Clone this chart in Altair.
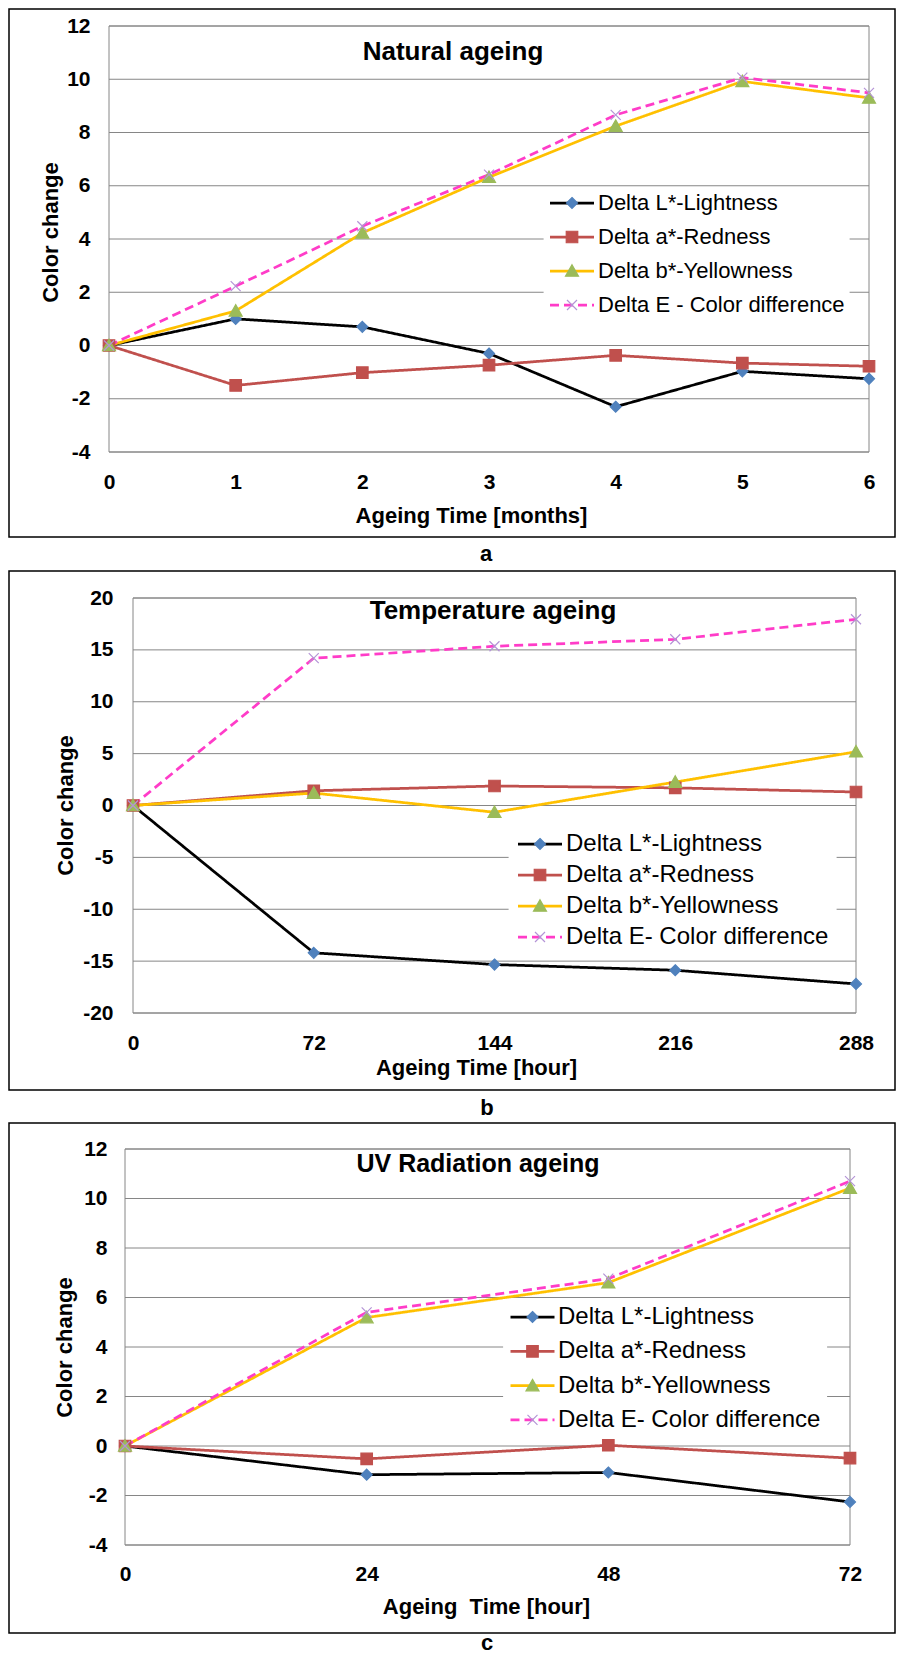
import altair as alt
import pandas as pd

# ---------------- data ----------------
names_a = ["Delta L*-Lightness", "Delta a*-Redness", "Delta b*-Yellowness", "Delta E - Color difference"]
names_bc = ["Delta L*-Lightness", "Delta a*-Redness", "Delta b*-Yellowness", "Delta E- Color difference"]
marker_keys = ["L", "a", "b", "E"]

months = [0, 1, 2, 3, 4, 5, 6]
nat_L = [0, 1.0, 0.7, -0.3, -2.3, -0.97, -1.25]
nat_a = [0, -1.5, -1.02, -0.74, -0.37, -0.66, -0.78]
nat_b = [0, 1.3, 4.23, 6.32, 8.24, 9.92, 9.3]
nat_E = [0, 2.23, 4.48, 6.42, 8.66, 10.06, 9.49]

temp_hours = [0, 72, 144, 216, 288]
temp_L = [0, -14.2, -15.33, -15.88, -17.2]
temp_a = [0, 1.42, 1.88, 1.7, 1.3]
temp_b = [0, 1.2, -0.65, 2.26, 5.18]
temp_E = [0, 14.2, 15.35, 16.02, 17.95]

uv_hours = [0, 24, 48, 72]
uv_L = [0, -1.16, -1.07, -2.26]
uv_a = [0, -0.52, 0.03, -0.49]
uv_b = [0, 5.19, 6.6, 10.42]
uv_E = [0, 5.4, 6.76, 10.7]

titles = ["Natural ageing", "Temperature ageing", "UV Radiation ageing"]
captions = ["a", "b", "c"]
x_titles = ["Ageing Time [months]", "Ageing Time [hour]", "Ageing\u00a0 Time [hour]"]
y_title = "Color change"
y_ticks_ac = [-4, -2, 0, 2, 4, 6, 8, 10, 12]
y_ticks_b = [-20, -15, -10, -5, 0, 5, 10, 15, 20]

# ---------------- styles ----------------
W, H = 888, 1648
line_colors = ["#000000", "#C0504D", "#FFC000", "#FF3CC8"]
marker_colors = ["#4F81BD", "#C0504D", "#9BBB59", "#B493D6"]
dash_styles = [[1, 0], [1, 0], [1, 0], [9, 5]]
marker_shapes = [
    "M-4.4,0M4.4,0M0,-1.1L1.1,0L0,1.1L-1.1,0Z",
    "M-4.4,0M4.4,0M-1.15,-1.15H1.15V1.15H-1.15Z",
    "M-4.4,0M4.4,0M0,-1.25L1.3,1.05H-1.3Z",
    "M-4.4,0M4.4,0M-1,-1L1,1M-1,1L1,-1",
]
line_symbol = "M-4.4,0H4.4"
FONT = "Liberation Sans"
GRID = "#868686"
HYPHEN_EXPR = "replace(datum.label, '\u2212', '-')"


def panel(xs, series, names, xdom, ydom, yticks, xtitle, g):
    rows = []
    for name, mk, vals in zip(names, marker_keys, series):
        for xv, yv in zip(xs, vals):
            rows.append({"t": xv, "v": yv, "series": name, "mk": mk})
    df = pd.DataFrame(rows)

    xenc = alt.X("t:Q", scale=alt.Scale(domain=xdom, range=[g["x0"], g["x1"]], nice=False, zero=False),
                 axis=alt.Axis(orient="bottom", offset=g["yb"] - H, values=xs, title=xtitle,
                               grid=False, labelPadding=g["xlp"], titleX=g["xtx"], titleY=g["xty"],
                               titleAlign="center", titleBaseline="middle", labelFlush=False))
    yenc = alt.Y("v:Q", scale=alt.Scale(domain=ydom, range=[g["yb"], g["yt"]], nice=False, zero=False),
                 axis=alt.Axis(orient="left", offset=-g["x0"], values=yticks, title=y_title,
                               grid=False, labelPadding=g["ylp"], titleX=g["ytx"], titleY=g["yty"],
                               titleAlign="center", titleBaseline="middle", labelExpr=HYPHEN_EXPR))

    common = dict(orient="none", legendX=g["lx"], legendY=g["ly"], title=None,
                  direction="vertical", padding=g["lp"], rowPadding=g["rp"],
                  labelFont=FONT, labelFontSize=g["lfs"], labelColor="black",
                  labelLimit=500, symbolOffset=g["so"], labelOffset=g["lo"],
                  symbolSize=100)
    legA = alt.Legend(symbolType=line_symbol, symbolStrokeWidth=2.75,
                      fillColor="white", **common)
    legB = alt.Legend(symbolStrokeWidth=1.2, labelExpr="' '", labelOpacity=0, **common)

    grid_df = pd.DataFrame({"v": yticks})
    grid = alt.Chart(grid_df).mark_rule(color=GRID, strokeWidth=1).encode(
        y=yenc, x=alt.value(g["x0"]), x2=alt.value(g["x1"]))
    border_df = pd.DataFrame({"t": [xdom[0]], "t2": [xdom[1]], "v": [ydom[0]], "v2": [ydom[1]]})
    border = alt.Chart(border_df).mark_rect(fill="transparent", stroke=GRID, strokeWidth=1).encode(
        x=xenc, x2=alt.X2("t2"), y=yenc, y2=alt.Y2("v2"))

    base = alt.Chart(df)
    lines = base.mark_line(strokeWidth=2.75).encode(
        x=xenc, y=yenc,
        color=alt.Color("series:N", scale=alt.Scale(domain=names, range=line_colors), legend=legA),
        strokeDash=alt.StrokeDash("series:N", scale=alt.Scale(domain=names, range=dash_styles), legend=legA),
    )
    pts = base.mark_point(filled=True, size=100, opacity=1, strokeWidth=1.2).encode(
        x=xenc, y=yenc,
        fill=alt.Fill("mk:N", scale=alt.Scale(domain=marker_keys, range=marker_colors), legend=legB),
        stroke=alt.Stroke("mk:N", scale=alt.Scale(domain=marker_keys, range=marker_colors), legend=legB),
        shape=alt.Shape("mk:N", scale=alt.Scale(domain=marker_keys, range=marker_shapes), legend=legB),
    )
    return alt.layer(grid, border, lines, pts)


def frame(y1, y2):
    return alt.Chart(pd.DataFrame({"k": [0]})).mark_rect(
        fill="transparent", stroke="black", strokeWidth=1.5).encode(
        x=alt.value(1), x2=alt.value(W - 1), y=alt.value(y1), y2=alt.value(y2))


def label(txt, x, y, size):
    return alt.Chart(pd.DataFrame({"k": [0]})).mark_text(
        text=txt, font=FONT, fontSize=size, fontWeight="bold", align="center",
        baseline="middle", color="black").encode(x=alt.value(x), y=alt.value(y))


geo_a = dict(x0=101, x1=861, yb=444, yt=18, xlp=19, xtx=463, xty=63, ylp=19, ytx=-59, yty=224,
             lx=535.6, ly=179, lp=5, rp=12, lfs=22, so=12.4, lo=15)
geo_b = dict(x0=125, x1=848, yb=1005, yt=590, xlp=19, xtx=468, xty=54, ylp=20, ytx=-68, yty=797,
             lx=500.6, ly=816, lp=8, rp=7, lfs=24, so=11.4, lo=14)
geo_c = dict(x0=117, x1=842, yb=1537, yt=1141, xlp=18, xtx=478, xty=61, ylp=18, ytx=-61, yty=1339,
             lx=495.1, ly=1291, lp=6, rp=10.3, lfs=24, so=11.4, lo=13.5)

pa = panel(months, [nat_L, nat_a, nat_b, nat_E], names_a, [0, 6], [-4, 12], y_ticks_ac, x_titles[0], geo_a)
pb = panel(temp_hours, [temp_L, temp_a, temp_b, temp_E], names_bc, [0, 288], [-20, 20], y_ticks_b, x_titles[1], geo_b)
pc = panel(uv_hours, [uv_L, uv_a, uv_b, uv_E], names_bc, [0, 72], [-4, 12], y_ticks_ac, x_titles[2], geo_c)

decor = [
    frame(1, 529), frame(563, 1082), frame(1115, 1625),
    label(titles[0], 445, 44, 26), label(titles[1], 485, 603, 26), label(titles[2], 470, 1156, 25),
    label(captions[0], 478, 546, 22), label(captions[1], 479, 1100, 22), label(captions[2], 479, 1635, 22),
]

chart = alt.layer(pa, pb, pc, *decor).resolve_scale(
    x="independent", y="independent",
    color="independent", strokeDash="independent", fill="independent",
    stroke="independent", shape="independent"
).resolve_axis(x="independent", y="independent").resolve_legend(
    color="independent", strokeDash="independent", fill="independent",
    stroke="independent", shape="independent"
).properties(
    width=W, height=H, padding=0, background="white"
).configure_view(strokeWidth=0).configure_axis(
    labelFont=FONT, labelFontSize=21, labelFontWeight="bold", labelColor="black",
    titleFont=FONT, titleFontSize=22, titleFontWeight="bold", titleColor="black",
    domain=False, ticks=False, tickSize=0, labelOverlap=False,
)

chart.save("out.html", embed_options={"renderer": "svg", "actions": False})
